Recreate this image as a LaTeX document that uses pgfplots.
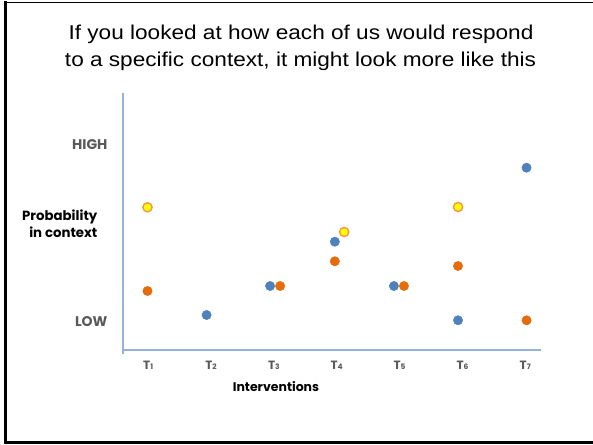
\documentclass[border=0pt]{standalone}
\usepackage{fontspec}
\setmainfont{Poppins}
\newfontfamily\titlefont[FakeStretch=1.13]{Liberation Sans}
\usepackage{pgfplots}
\pgfplotsset{compat=1.18}
\definecolor{cblue}{HTML}{4F81BD}
\definecolor{corange}{HTML}{E46C0A}
\definecolor{cyellow}{HTML}{FFFF00}
\definecolor{cedge}{HTML}{F79646}
\definecolor{caxis}{HTML}{95B3D7}
\definecolor{cgray}{HTML}{595959}
\newcommand\Tl[1]{{\fontsize{12}{12}\selectfont\bfseries T}{\fontsize{7.5}{8}\selectfont\bfseries #1}}
\begin{document}
\begin{tikzpicture}
\path[use as bounding box] (0pt,0pt) rectangle (593pt,444pt);
% frame
\draw[line width=1.5pt] (4pt,441.7pt) -- (593pt,441.7pt);
\draw[line width=3pt] (5.5pt,0pt) -- (5.5pt,442.5pt);
\draw[line width=3.3pt] (4pt,1.6pt) -- (593pt,1.6pt);
% title
\node[anchor=base, inner sep=0pt, font=\titlefont\fontsize{20}{24}\selectfont] at (301pt,404.7pt) {If you looked at how each of us would respond};
\node[anchor=base, inner sep=0pt, font=\titlefont\fontsize{20}{24}\selectfont] at (300.5pt,377.3pt) {to a specific context, it might look more like this};
\begin{axis}[
  at={(123pt,94pt)}, anchor=south west,
  scale only axis, width=418pt, height=257pt,
  xmin=0.6, xmax=7.25, ymin=0, ymax=25.7,
  axis x line=bottom, axis y line=left,
  axis line style={-, draw=caxis, line width=1.2pt},
  y axis line style={shorten <=-4pt},
  major tick length=0pt,
  xtick={1,2,3,4,5,6,7},
  xticklabels={\Tl{1},\Tl{2},\Tl{3},\Tl{4},\Tl{5},\Tl{6},\Tl{7}},
  xticklabel style={text=cgray, yshift=-8pt},
  ytick={2.8,20.5},
  yticklabels={LOW,HIGH},
  yticklabel style={text=cgray, font=\fontsize{14}{14}\selectfont\bfseries, xshift=-12pt},
  xlabel={Interventions},
  xlabel style={font=\fontsize{12.5}{15}\selectfont\bfseries, at={(axis description cs:0.366,-0.143)}, anchor=center},
  ylabel={Probability\\in context},
  ylabel style={rotate=-90, align=right, font=\fontsize{13.3}{17}\selectfont\bfseries, at={(axis description cs:-0.053,0.492)}, anchor=east},
  clip=false,
]
\addplot[only marks, mark=*, mark size=4.7pt, mark options={fill=cblue, draw=cblue}] coordinates {
(1.93,3.5) (2.94,6.4) (3.97,10.83) (4.91,6.4) (5.93,2.97) (7.02,18.23)
};
\addplot[only marks, mark=*, mark size=4.7pt, mark options={fill=corange, draw=corange}] coordinates {
(0.99,5.9) (3.10,6.4) (3.97,8.87) (5.07,6.4) (5.93,8.4) (7.02,2.97)
};
\addplot[only marks, mark=*, mark size=4.6pt, mark options={fill=cyellow, draw=cedge, line width=1.4pt}] coordinates {
(0.99,14.27) (4.12,11.8) (5.93,14.3)
};
\end{axis}
\end{tikzpicture}
\end{document}
